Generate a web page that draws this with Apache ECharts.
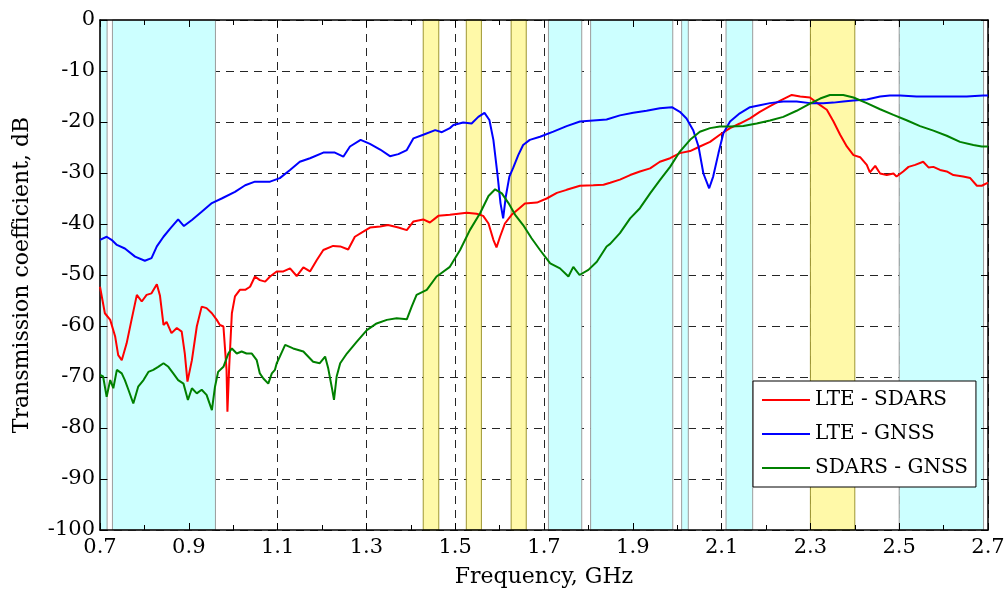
<!DOCTYPE html>
<html>
<head>
<meta charset="utf-8">
<script src="https://cdn.jsdelivr.net/npm/echarts@6/dist/echarts.min.js"></script>
<style>
  html, body { margin: 0; padding: 0; background: #fff; }
  #chart { width: 1004px; height: 592px; }
</style>
</head>
<body>
<div id="chart"></div>
<script>
// Frequency bands shaded behind the curves, GHz
const cyanBands = [[0.700, 0.716], [0.728, 0.960], [1.710, 1.785], [1.805, 1.990],
                   [2.010, 2.025], [2.110, 2.170], [2.500, 2.690]];
const yellowBands = [[1.428, 1.463], [1.525, 1.559], [1.626, 1.660], [2.300, 2.400]];

// LTE - SDARS
const lteSdarsFreq = [0.700,0.711,0.723,0.734,0.741,0.749,0.760,0.771,0.783,0.794,0.805,0.816,0.828,0.835,0.843,0.850,0.861,0.873,0.884,0.891,0.897,0.907,0.918,0.929,0.940,0.952,0.963,0.970,0.978,0.985,0.987,0.991,0.997,1.004,1.015,1.027,1.038,1.049,1.060,1.072,1.083,1.098,1.113,1.128,1.143,1.158,1.173,1.188,1.203,1.225,1.241,1.259,1.274,1.293,1.308,1.331,1.349,1.372,1.391,1.406,1.428,1.443,1.462,1.488,1.526,1.548,1.563,1.575,1.586,1.593,1.601,1.612,1.627,1.642,1.657,1.684,1.706,1.729,1.751,1.781,1.811,1.834,1.849,1.871,1.894,1.916,1.939,1.961,1.984,2.006,2.029,2.051,2.074,2.096,2.119,2.141,2.164,2.186,2.209,2.232,2.258,2.277,2.299,2.322,2.337,2.352,2.367,2.382,2.397,2.412,2.427,2.434,2.446,2.457,2.472,2.487,2.494,2.509,2.521,2.536,2.554,2.566,2.577,2.592,2.607,2.622,2.644,2.660,2.675,2.686,2.700];
const lteSdarsDb = [-52.3,-57.5,-58.8,-62.0,-65.7,-66.7,-63.4,-58.8,-53.9,-55.2,-53.9,-53.6,-51.8,-54.0,-59.8,-59.2,-61.4,-60.4,-61.1,-65.4,-70.9,-66.7,-60.1,-56.2,-56.5,-57.5,-58.8,-59.8,-60.1,-68.6,-76.8,-68.0,-57.5,-54.2,-52.9,-52.9,-52.3,-50.3,-51.0,-51.3,-50.3,-49.3,-49.3,-48.7,-50.2,-48.5,-49.3,-47.1,-45.1,-44.3,-44.4,-45.0,-42.5,-41.5,-40.7,-40.5,-40.2,-40.7,-41.2,-39.5,-39.1,-39.7,-38.4,-38.2,-37.8,-38.0,-38.4,-39.9,-43.1,-44.6,-42.5,-39.9,-38.2,-37.1,-36.0,-35.8,-35.0,-33.9,-33.3,-32.5,-32.4,-32.3,-31.9,-31.3,-30.4,-29.7,-29.1,-27.8,-27.1,-26.1,-25.7,-24.8,-23.9,-22.5,-21.2,-20.3,-19.3,-18.0,-16.9,-15.8,-14.7,-15.0,-15.2,-16.7,-17.6,-19.9,-22.5,-24.8,-26.5,-26.9,-28.4,-29.9,-28.6,-30.1,-30.4,-30.1,-30.7,-29.7,-28.8,-28.4,-27.8,-28.9,-28.8,-29.4,-29.7,-30.4,-30.7,-31.0,-32.5,-32.5,-31.9];

// LTE - GNSS
const lteGnssFreq = [0.700,0.715,0.726,0.738,0.756,0.779,0.801,0.816,0.828,0.843,0.858,0.876,0.889,0.907,0.929,0.952,0.974,1.004,1.027,1.049,1.083,1.105,1.128,1.150,1.173,1.203,1.229,1.248,1.263,1.287,1.308,1.331,1.353,1.372,1.391,1.406,1.428,1.455,1.470,1.488,1.496,1.518,1.537,1.552,1.566,1.577,1.586,1.595,1.602,1.608,1.614,1.622,1.631,1.642,1.653,1.668,1.691,1.721,1.751,1.781,1.811,1.841,1.871,1.901,1.931,1.961,1.988,2.006,2.021,2.036,2.048,2.059,2.072,2.081,2.093,2.104,2.119,2.141,2.164,2.186,2.209,2.239,2.269,2.299,2.329,2.352,2.374,2.397,2.427,2.457,2.479,2.502,2.539,2.577,2.614,2.652,2.689,2.700];
const lteGnssDb = [-43.1,-42.5,-43.1,-44.1,-44.8,-46.4,-47.2,-46.7,-44.4,-42.5,-40.9,-39.1,-40.4,-39.2,-37.6,-35.9,-35.0,-33.7,-32.4,-31.7,-31.7,-31.0,-29.4,-27.8,-27.1,-26.0,-26.0,-26.8,-24.8,-23.5,-24.3,-25.4,-26.7,-26.3,-25.5,-23.2,-22.5,-21.6,-22.0,-21.2,-20.6,-20.1,-20.3,-19.0,-18.2,-19.6,-23.5,-30.1,-35.9,-38.9,-34.6,-30.7,-28.9,-26.5,-24.5,-23.5,-22.9,-21.9,-20.8,-19.9,-19.7,-19.5,-18.7,-18.2,-17.8,-17.3,-17.1,-18.0,-19.3,-21.6,-24.8,-30.1,-33.0,-30.7,-26.1,-22.2,-19.9,-18.3,-17.1,-16.7,-16.3,-16.0,-16.0,-16.3,-16.3,-16.2,-16.0,-15.8,-15.6,-15.0,-14.8,-14.8,-15.0,-15.0,-15.0,-15.0,-14.8,-14.8];

// SDARS - GNSS
const sdarsGnssFreq = [0.700,0.707,0.715,0.723,0.730,0.738,0.749,0.756,0.764,0.775,0.786,0.798,0.809,0.820,0.831,0.843,0.854,0.865,0.876,0.888,0.898,0.907,0.918,0.929,0.940,0.952,0.959,0.966,0.978,0.989,0.997,1.008,1.019,1.030,1.042,1.053,1.060,1.068,1.079,1.087,1.094,1.098,1.105,1.117,1.135,1.158,1.180,1.195,1.207,1.214,1.222,1.227,1.233,1.241,1.256,1.278,1.301,1.323,1.346,1.368,1.391,1.402,1.413,1.436,1.458,1.466,1.488,1.511,1.533,1.556,1.575,1.590,1.605,1.620,1.635,1.653,1.672,1.691,1.714,1.736,1.755,1.766,1.780,1.800,1.819,1.841,1.849,1.871,1.894,1.916,1.939,1.961,1.984,2.006,2.029,2.051,2.074,2.096,2.119,2.149,2.179,2.209,2.239,2.269,2.299,2.322,2.344,2.374,2.397,2.427,2.457,2.487,2.518,2.547,2.577,2.607,2.637,2.667,2.686,2.700];
const sdarsGnssDb = [-69.6,-69.9,-73.9,-70.6,-72.2,-68.6,-69.3,-70.6,-72.5,-75.2,-71.9,-70.6,-69.0,-68.6,-68.0,-67.3,-68.0,-69.3,-70.6,-71.3,-74.5,-72.2,-73.2,-72.5,-73.5,-76.5,-71.9,-69.0,-68.0,-65.4,-64.4,-65.4,-65.0,-65.4,-65.4,-66.7,-69.3,-70.3,-71.3,-69.3,-68.6,-67.3,-66.0,-63.7,-64.4,-65.0,-67.0,-67.3,-66.0,-68.3,-72.0,-74.5,-69.9,-67.3,-65.4,-63.1,-60.8,-59.5,-58.8,-58.5,-58.7,-56.2,-53.9,-52.9,-50.3,-49.8,-48.4,-45.1,-41.2,-37.9,-34.5,-33.2,-34.0,-35.9,-38.2,-40.2,-42.8,-45.1,-47.7,-48.7,-50.3,-48.4,-50.0,-49.0,-47.4,-44.4,-43.9,-41.8,-38.9,-36.9,-34.0,-31.4,-28.8,-25.8,-23.5,-21.9,-21.2,-20.9,-20.9,-20.8,-20.3,-19.7,-19.0,-17.8,-16.4,-15.4,-14.7,-14.7,-15.2,-16.3,-17.5,-18.6,-19.7,-20.8,-21.7,-22.7,-23.9,-24.5,-24.8,-24.8];

const seriesNames = ['LTE - SDARS', 'LTE - GNSS', 'SDARS - GNSS'];
const seriesColors = ['#ff0000', '#0000ff', '#008000'];

const FONT = 'DejaVu Serif';
const zip = (xs, ys) => xs.map((x, i) => [x, ys[i]]);

const gridDash = { color: '#262626', width: 1, type: [8, 6] };
const frameLine = { show: true, onZero: false, lineStyle: { color: '#000', width: 1.5 } };
const tickIn = { show: true, inside: true, length: 7, lineStyle: { color: '#000' } };
const minorIn = { show: true, splitNumber: 2, length: 5, lineStyle: { color: '#000' } };

function bandSeries(name, bands, fill, edge) {
  return {
    name: name, type: 'line', data: [], z: 0, silent: true,
    markArea: {
      silent: true,
      itemStyle: { color: fill, borderColor: edge, borderWidth: 1 },
      data: bands.map(b => [{ xAxis: b[0] }, { xAxis: b[1] }])
    }
  };
}

function curve(i, freq, db) {
  return {
    name: seriesNames[i], type: 'line', z: 3, showSymbol: false, symbol: 'none',
    data: zip(freq, db),
    lineStyle: { color: seriesColors[i], width: 2 }, itemStyle: { color: seriesColors[i] }
  };
}

const chart = echarts.init(document.getElementById('chart'), null, { renderer: 'canvas' });
chart.setOption({
  animation: false,
  backgroundColor: '#fff',
  textStyle: { fontFamily: FONT },
  grid: { left: 100, right: 16, top: 20, bottom: 62, containLabel: false, outerBoundsMode: 'none' },
  legend: {
    data: seriesNames,
    orient: 'vertical',
    left: 753, top: 381,
    icon: 'rect', itemWidth: 48, itemHeight: 2, itemGap: 14,
    padding: [9, 8, 9, 9],
    backgroundColor: '#fff', borderColor: '#000', borderWidth: 1,
    textStyle: { fontFamily: FONT, fontSize: 20, color: '#000' }
  },
  xAxis: [
    {
      type: 'value', position: 'bottom', min: 0.7, max: 2.7, interval: 0.2, z: 1,
      name: 'Frequency, GHz', nameLocation: 'middle', nameGap: 36,
      nameTextStyle: { fontFamily: FONT, fontSize: 22, color: '#000' },
      axisLine: frameLine, axisTick: tickIn, minorTick: minorIn,
      axisLabel: { fontFamily: FONT, fontSize: 21, color: '#000', margin: 7,
                   formatter: v => v.toFixed(1) },
      splitLine: { show: true, lineStyle: gridDash }
    },
    {
      type: 'value', position: 'top', min: 0.7, max: 2.7, interval: 0.2, z: 1,
      axisLine: frameLine, axisTick: tickIn, minorTick: minorIn,
      axisLabel: { show: false },
      splitLine: { show: false }
    }
  ],
  yAxis: [
    {
      type: 'value', position: 'left', min: -100, max: 0, interval: 10, z: 1,
      name: 'Transmission coefficient, dB', nameLocation: 'middle', nameGap: 67,
      nameTextStyle: { fontFamily: FONT, fontSize: 22, color: '#000' },
      axisLine: frameLine, axisTick: tickIn,
      axisLabel: { fontFamily: FONT, fontSize: 21, color: '#000', margin: 5 },
      splitLine: { show: true, lineStyle: gridDash }
    },
    {
      type: 'value', position: 'right', min: -100, max: 0, interval: 10, z: 1,
      axisLine: frameLine, axisTick: tickIn,
      axisLabel: { show: false },
      splitLine: { show: false }
    }
  ],
  series: [
    bandSeries('cyan bands', cyanBands, '#ccffff', '#9c9c9c'),
    bandSeries('yellow bands', yellowBands, '#fff9a8', '#9e9632'),
    curve(0, lteSdarsFreq, lteSdarsDb),
    curve(1, lteGnssFreq, lteGnssDb),
    curve(2, sdarsGnssFreq, sdarsGnssDb)
  ]
});
</script>
</body>
</html>
